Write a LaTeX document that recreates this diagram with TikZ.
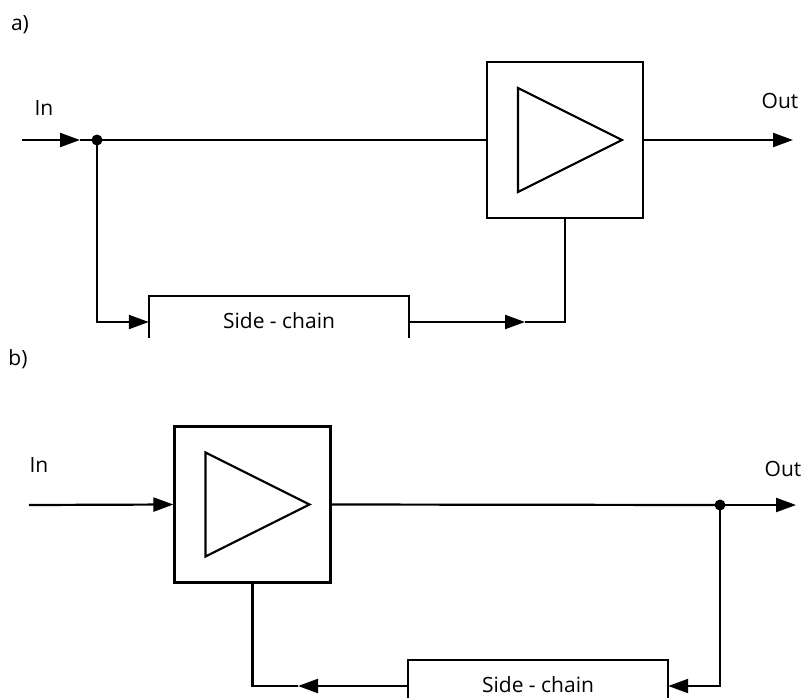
\documentclass[tikz,border=0pt]{standalone}
\usepackage{fontspec}
\setmainfont{Open Sans}
\usetikzlibrary{arrows.meta,calc}

\tikzset{
  wire/.style={line width=2.2pt, line cap=butt, line join=miter},
  arr/.style={wire, -{Triangle[length=20pt,width=14pt]}},
  ampbox/.style={draw, line width=2.2pt, minimum width=156pt, minimum height=156pt, inner sep=0pt},
  chainlbl/.style={minimum width=260pt, minimum height=52pt, inner sep=0pt,
    text height=13pt, text depth=0pt, font=\fontsize{21}{24}\selectfont},
  lbl/.style={font=\fontsize{21}{24}\selectfont, inner sep=0pt},
  dot/.style={circle, fill, inner sep=0pt, minimum size=11pt},
}

% open-bottomed side-chain frame above a label node
\newcommand{\chainframe}[1]{%
  \draw[wire] ($(#1.north west)+(0,42)$) -- (#1.north west) -- (#1.north east) -- ($(#1.north east)+(0,42)$);}

% amplifier triangle inside an amplifier box
\newcommand{\amptri}[1]{%
  \draw[wire] ($(#1.center)+(-47,-52)$) -- ($(#1.center)+(57,0)$) -- ($(#1.center)+(-47,52)$) -- cycle;}

\begin{document}
\begin{tikzpicture}[x=1pt,y=-1pt]
\useasboundingbox (0,0) rectangle (808,697);

% ---------------- a) side-chain fed from the input ----------------
\node[lbl] (la) at (20,25) {a)};
\node[lbl] (ina) at (44,108) {In};
\node[lbl] (outa) at (780,101) {Out};

\node[ampbox] (ampa) at (565,140) {};
\amptri{ampa}
\node[chainlbl] (sca) at (279,322) {Side - chain};
\chainframe{sca}

\coordinate (srca) at (22,140);
\coordinate (tipa) at (80,140);
\coordinate (ja) at (97,140);
\coordinate (outpa) at (793,140);
\coordinate (ctla) at (525,322);

\draw[arr] (srca) -- (tipa);
\draw[wire] (tipa) -- (ampa.west);
\draw[arr] (ampa.east) -- (outpa);
\draw[arr] (ja) |- (sca.west);
\draw[arr] (sca.east) -- (ctla);
\draw[wire] (ctla) -| (ampa.south);
\node[dot] (dja) at (ja) {};

% ---------------- b) side-chain fed from the output ----------------
\node[lbl] (lb) at (18,359) {b)};
\node[lbl] (inb) at (39,465) {In};
\node[lbl] (outb) at (783,469) {Out};

\node[ampbox] (ampb) at (252.5,504.5) {};
\amptri{ampb}
\node[chainlbl] (scb) at (538,686) {Side - chain};
\chainframe{scb}

\coordinate (srcb) at (29,505);
\coordinate (jb) at (720,505);
\coordinate (outpb) at (796,505);
\coordinate (ctlb) at (298,686);

\draw[arr] (srcb) -- (ampb.west);
\draw[wire] (ampb.east) -- (jb);
\draw[arr] (jb) -- (outpb);
\draw[arr] (jb) |- (scb.east);
\draw[arr] (scb.west) -- (ctlb);
\draw[wire] (ctlb) -| (ampb.south);
\node[dot] (djb) at (jb) {};
\end{tikzpicture}
\end{document}
